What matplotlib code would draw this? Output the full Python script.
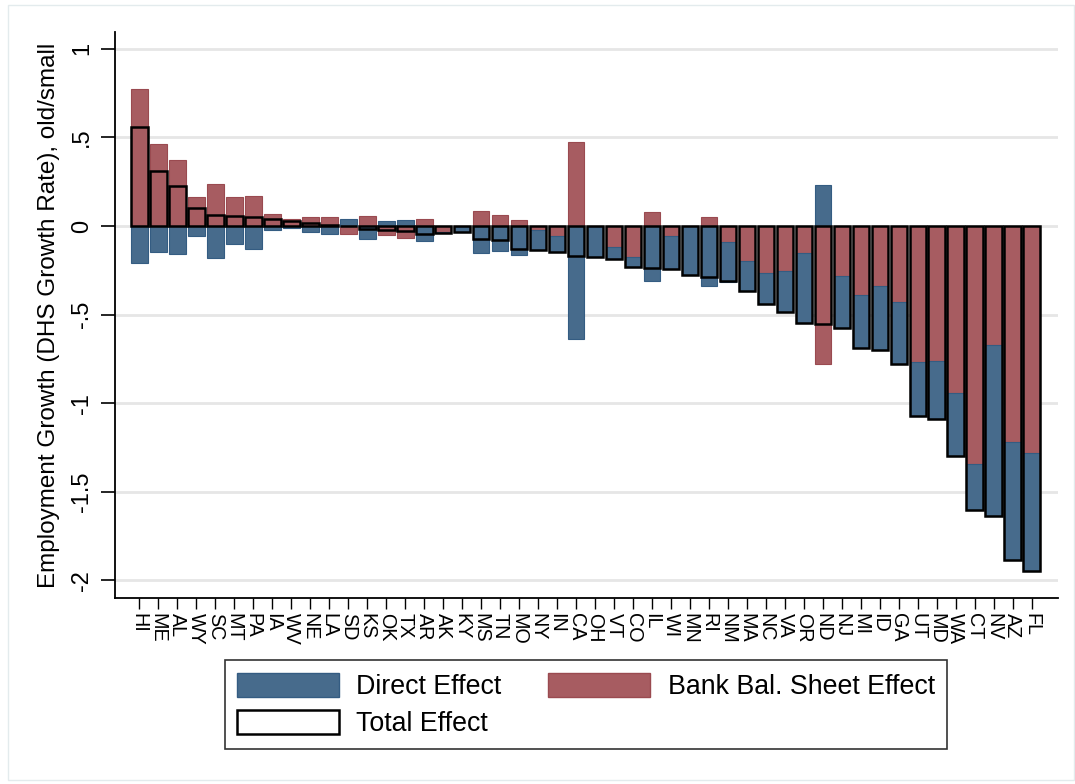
import matplotlib
matplotlib.use("Agg")
import matplotlib.pyplot as plt
from matplotlib.patches import Patch, Rectangle
import numpy as np

plt.rcParams['font.family'] = ['Liberation Sans', 'DejaVu Sans']

# values (growth rate, old/small)
states = ['HI', 'ME', 'AL', 'WY', 'SC', 'MT', 'PA', 'IA', 'WV', 'NE', 'LA', 'SD',
          'KS', 'OK', 'TX', 'AR', 'AK', 'KY', 'MS', 'TN', 'MO', 'NY', 'IN', 'CA',
          'OH', 'VT', 'CO', 'IL', 'WI', 'MN', 'RI', 'NM', 'MA', 'NC', 'VA', 'OR',
          'ND', 'NJ', 'MI', 'ID', 'GA', 'UT', 'MD', 'WA', 'CT', 'NV', 'AZ', 'FL']

direct = [-0.21, -0.147, -0.156, -0.058, -0.181, -0.104, -0.128, -0.021, -0.011, -0.036,
          -0.043, 0.041, -0.075, 0.026, 0.036, -0.087, -0.005, -0.03, -0.155, -0.14,
          -0.164, -0.116, -0.089, -0.64, -0.17, -0.07, -0.052, -0.313, -0.186, -0.276,
          -0.336, -0.226, -0.17, -0.173, -0.233, -0.39, 0.229, -0.291, -0.297, -0.364,
          -0.349, -0.306, -0.33, -0.356, -0.261, -0.96, -0.671, -0.669]

bank = [0.772, 0.463, 0.375, 0.164, 0.237, 0.164, 0.171, 0.066, 0.041, 0.049,
        0.049, -0.043, 0.058, -0.049, -0.066, 0.041, -0.035, -0.005, 0.087, 0.063,
        0.035, -0.02, -0.058, 0.474, -0.005, -0.118, -0.177, 0.078, -0.058, 0.0,
        0.049, -0.088, -0.196, -0.267, -0.252, -0.155, -0.779, -0.283, -0.39, -0.338,
        -0.428, -0.765, -0.76, -0.944, -1.343, -0.674, -1.216, -1.278]

total = [0.559, 0.313, 0.224, 0.102, 0.06, 0.056, 0.049, 0.038, 0.027, 0.017,
         0.008, -0.002, -0.017, -0.023, -0.03, -0.046, -0.04, -0.035, -0.073, -0.077,
         -0.132, -0.136, -0.147, -0.17, -0.174, -0.188, -0.23, -0.235, -0.244, -0.276,
         -0.287, -0.313, -0.366, -0.44, -0.485, -0.545, -0.553, -0.574, -0.687, -0.702,
         -0.777, -1.071, -1.09, -1.30, -1.604, -1.634, -1.887, -1.947]

blue = '#476b8c'
red = '#a75c61'

x = np.arange(len(states))
d = np.array(direct)
b = np.array(bank)
# direct sits under the bank bar when both go the same way
bottom = np.where(np.sign(d) == np.sign(b), b, 0.0)

fig = plt.figure(figsize=(10.75, 7.84), dpi=100)
ax = fig.add_axes([0.107, 0.237, 0.877, 0.722])

w = 0.88
ax.bar(x, b, width=w, color=red, edgecolor='#9a4a50', linewidth=0.8, zorder=2)
ax.bar(x, d, width=w, bottom=bottom, color=blue, edgecolor='#345c82', linewidth=0.8, zorder=2)
ax.bar(x, total, width=w, fill=False, edgecolor='black', linewidth=1.8, zorder=3)

ax.set_xlim(-1.28, len(states) - 1 + 1.37)
ax.set_ylim(-2.10, 1.094)

yt = [-2, -1.5, -1, -0.5, 0, 0.5, 1]
ax.set_yticks(yt)
ax.set_yticklabels(['-2', '-1.5', '-1', '-.5', '0', '.5', '1'], rotation=90, va='center')
ax.tick_params(axis='y', length=10, width=1.2, labelsize=17, pad=6)
ax.set_xticks(x)
ax.set_xticklabels(states, rotation=270, fontsize=14.2)
ax.tick_params(axis='x', length=8, width=1.0, pad=3)

ax.grid(axis='y', color='#e6e6e6', linewidth=2, zorder=0)
ax.set_axisbelow(True)
for s in ['top', 'right']:
    ax.spines[s].set_visible(False)
ax.spines['left'].set_linewidth(1.3)
ax.spines['bottom'].set_linewidth(1.3)

ax.set_ylabel('Employment Growth (DHS Growth Rate), old/small', fontsize=17.5, labelpad=8)

handles = [Patch(facecolor=blue, edgecolor='#345c82', label='Direct Effect'),
           Patch(facecolor='white', edgecolor='black', linewidth=1.8, label='Total Effect'),
           Patch(facecolor=red, edgecolor='#9a4a50', label='Bank Bal. Sheet Effect')]
leg = fig.legend(handles=handles, ncol=2, loc='center', bbox_to_anchor=(0.545, 0.101),
                 fontsize=19.3, frameon=True, fancybox=False, edgecolor='black',
                 handlelength=3.8, handleheight=1.0, handletextpad=0.65,
                 columnspacing=1.75, labelspacing=0.38, borderpad=0.45)
leg.get_frame().set_linewidth(1.2)

# faint outer region border like the Stata graph region
fig.patches.append(Rectangle((8 / 1075, 4 / 784), 1 - 9 / 1075, 1 - 9 / 784,
                             transform=fig.transFigure, fill=False,
                             edgecolor='#e3ebed', linewidth=1))

fig.savefig('out.png', dpi=100)
